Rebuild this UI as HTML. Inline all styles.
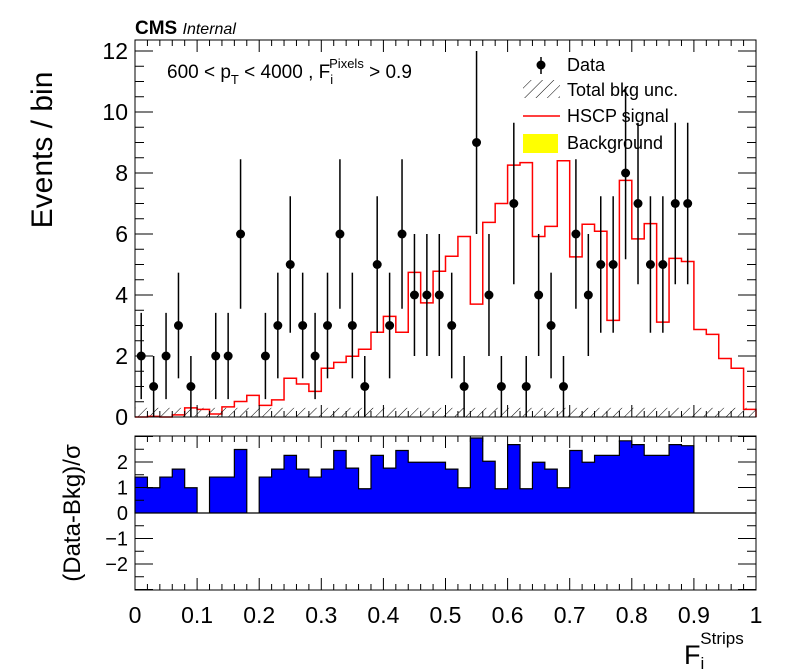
<!DOCTYPE html>
<html><head><meta charset="utf-8"><style>
body{margin:0;background:#fff}
svg{display:block;font-family:"Liberation Sans",sans-serif}
</style></head><body>
<svg id="c" width="796" height="672" viewBox="0 0 796 672">
<defs><pattern id="hatch" width="8" height="8" patternUnits="userSpaceOnUse" patternTransform="rotate(45)"><line x1="0" y1="0" x2="0" y2="8" stroke="#000" stroke-width="1"/></pattern></defs>
<rect x="135" y="40" width="621" height="377" fill="#fff" stroke="none"/>
<g id="topg"></g>
<g id="botg"></g>
<rect x="135" y="40" width="621" height="377" fill="none" stroke="#000" stroke-width="1"/>
<rect x="135" y="436" width="621" height="154" fill="none" stroke="#000" stroke-width="1"/>
<text x="135" y="34" font-size="19" font-weight="bold">CMS <tspan font-weight="normal" font-style="italic" font-size="16">Internal</tspan></text>
<text transform="translate(52,150) rotate(-90)" text-anchor="middle" font-size="30">Events / bin</text>
<text transform="translate(80,513) rotate(-90)" text-anchor="middle" font-size="24">(Data-Bkg)/σ</text>
<text x="684" y="664" font-size="27">F<tspan font-size="17" dy="5">i</tspan><tspan font-size="17" dx="-4" dy="-25">Strips</tspan></text>
<text x="167" y="78" font-size="19">600 &lt; p<tspan font-size="13" dy="6">T</tspan><tspan dy="-6"> &lt; 4000 , F</tspan><tspan font-size="13" dy="6">i</tspan><tspan font-size="13" dx="-4" dy="-16">Pixels</tspan><tspan dy="10"> &gt; 0.9</tspan></text>
<g font-size="18">
<g><line x1="541" y1="57" x2="541" y2="74" stroke="#000" stroke-width="1.5"/><circle cx="541" cy="65" r="4.5" fill="#000"/><text x="567" y="71">Data</text></g>
<g><rect x="523" y="80" width="37" height="18" fill="url(#hatch)"/><text x="567" y="96">Total bkg unc.</text></g>
<g><line x1="523" y1="116" x2="560" y2="116" stroke="#f00" stroke-width="1.5"/><text x="567" y="122">HSCP signal</text></g>
<g><rect x="523" y="134" width="35" height="19" fill="#ff0"/><text x="567" y="149">Background</text></g>
</g>
</svg>
<script>
const dataCounts=[2,1,2,3,1,0,2,2,6,0,2,3,5,3,2,3,6,3,1,5,3,6,4,4,4,3,1,9,4,1,7,1,4,3,1,6,4,5,5,8,7,5,5,7,7,0,0,0,0,0];
const signalValues=[0,0.02,0,0.07,0.3,0.25,0.1,0.33,0.51,0.71,0.38,0.56,1.27,1.08,0.84,1.6,1.79,1.99,2.22,2.78,3.3,2.78,4.74,3.74,4.78,5.27,5.92,3.7,6.38,7.0,8.26,8.34,5.92,6.25,8.4,5.25,6.32,6.09,3.17,7.76,5.84,6.34,3.11,5.2,5.1,2.87,2.71,1.92,1.6,0.25];
const pullValues=[1.41,0.99,1.41,1.72,0.99,0,1.41,1.41,2.49,0,1.41,1.72,2.26,1.72,1.41,1.72,2.45,1.76,0.95,2.26,1.76,2.45,1.99,1.99,1.99,1.72,0.99,2.94,2.03,0.95,2.68,0.95,1.99,1.72,0.99,2.45,1.99,2.26,2.26,2.83,2.68,2.26,2.26,2.68,2.64,0,0,0,0,0];
const bkgUncValue=0.3;
const yTicks=[0,2,4,6,8,10,12];
const rTicks=[-2,-1,0,1,2];
const xTicks=["0","0.1","0.2","0.3","0.4","0.5","0.6","0.7","0.8","0.9","1"];
const NS="http://www.w3.org/2000/svg";
const X=v=>135+v*621, Y=v=>417-v*30.5, R=v=>513-v*25.5;
const nb=dataCounts.length, bw=1/nb;
const topG=document.getElementById('topg'), botG=document.getElementById('botg'), svgEl=document.getElementById('c');
function mk(t,a,p){const e=document.createElementNS(NS,t);for(const k in a)e.setAttribute(k,a[k]);p.appendChild(e);return e;}
const band=mk('rect',{x:X(0),y:Y(bkgUncValue),width:X(1)-X(0),height:Y(0)-Y(bkgUncValue),fill:'url(#hatch)'},topG);


let d='M'+X(0)+','+Y(0);
signalValues.forEach((v,i)=>{d+=' L'+X(i*bw)+','+Y(v)+' L'+X((i+1)*bw)+','+Y(v);});
d+=' L'+X(1)+','+Y(0);
const sig=mk('path',{d:d,fill:'none',stroke:'#f00','stroke-width':1.5},topG);


dataCounts.forEach((n,i)=>{if(n===0)return;
const cx=X((i+0.5)*bw),e=Math.sqrt(n);
const g=mk('g',{},topG);


mk('line',{x1:cx,x2:cx,y1:Y(n+e),y2:Y(Math.max(0,n-e)),stroke:'#000','stroke-width':1.5},g);
mk('circle',{cx:cx,cy:Y(n),r:4.5,fill:'#000'},g);});
let p='M'+X(0)+','+R(0);
pullValues.forEach((v,i)=>{p+=' L'+X(i*bw)+','+R(v)+' L'+X((i+1)*bw)+','+R(v);});
p+=' L'+X(1)+','+R(0)+' Z';
const pb=mk('path',{d:p,fill:'#00f',stroke:'#000','stroke-width':1.2},botG);


const tk=mk('g',{stroke:'#000','stroke-width':1,fill:'none'},svgEl);


for(let v=0;v<=12.3;v+=0.5){const L=(Math.abs(v%2)<1e-6)?18:9;
mk('line',{x1:135,x2:135+L,y1:Y(v),y2:Y(v)},tk);mk('line',{x1:756,x2:756-L,y1:Y(v),y2:Y(v)},tk);}
for(let v=-3;v<=3;v+=0.5){const L=(Math.abs(v%1)<1e-6)?18:9;
mk('line',{x1:135,x2:135+L,y1:R(v),y2:R(v)},tk);mk('line',{x1:756,x2:756-L,y1:R(v),y2:R(v)},tk);}
for(let k=0;k<=50;k++){const v=k*0.02,x=X(v),L=(k%5===0)?12:6;
mk('line',{x1:x,x2:x,y1:417,y2:417-L},tk);mk('line',{x1:x,x2:x,y1:40,y2:40+L},tk);
mk('line',{x1:x,x2:x,y1:590,y2:590-L},tk);mk('line',{x1:x,x2:x,y1:436,y2:436+L},tk);}
yTicks.forEach(v=>{const t=mk('text',{x:128,y:Y(v)+8,'text-anchor':'end','font-size':23},svgEl);t.textContent=v;

});
rTicks.forEach(v=>{const t=mk('text',{x:128,y:R(v)+7,'text-anchor':'end','font-size':20},svgEl);t.textContent=(v<0?'−'+(-v):v);

});
xTicks.forEach((s,i)=>{const t=mk('text',{x:X(i/10),y:623,'text-anchor':'middle','font-size':23},svgEl);t.textContent=s;

});
</script>
</body></html>
